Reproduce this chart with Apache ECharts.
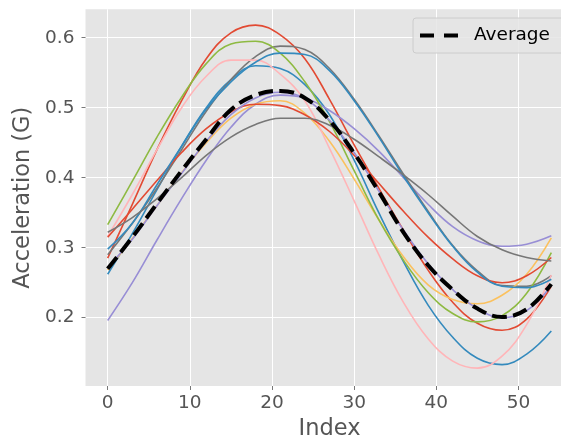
<!DOCTYPE html>
<html><head><meta charset="utf-8">
<script src="https://cdn.jsdelivr.net/npm/echarts@6/dist/echarts.min.js"></script>
<style>html,body{margin:0;padding:0;background:#fff}#c{width:561px;height:441px}</style>
</head><body><div id="c"></div>
<script>
const xIndex = [0,3,6,9,12,15,18,21,24,27,30,33,36,39,42,45,48,51,54];
const redA    = [0.285,0.362,0.440,0.510,0.570,0.607,0.618,0.604,0.570,0.512,0.447,0.385,0.325,0.268,0.222,0.192,0.182,0.198,0.245];
const blueB   = [0.262,0.320,0.383,0.445,0.500,0.540,0.560,0.556,0.533,0.490,0.425,0.350,0.280,0.218,0.172,0.142,0.133,0.148,0.181];
const purpleA = [0.196,0.250,0.311,0.370,0.425,0.472,0.505,0.518,0.514,0.496,0.470,0.438,0.400,0.362,0.330,0.310,0.302,0.305,0.317];
const grayA   = [0.290,0.335,0.385,0.440,0.495,0.540,0.573,0.588,0.583,0.556,0.512,0.460,0.405,0.352,0.303,0.267,0.246,0.245,0.260];
const yellow  = [0.268,0.313,0.360,0.407,0.450,0.485,0.505,0.510,0.492,0.452,0.398,0.340,0.287,0.247,0.226,0.220,0.232,0.262,0.314];
const green   = [0.333,0.395,0.458,0.515,0.563,0.591,0.595,0.578,0.537,0.480,0.410,0.340,0.282,0.236,0.206,0.194,0.203,0.235,0.293];
const pink    = [0.316,0.376,0.440,0.500,0.545,0.568,0.568,0.548,0.510,0.442,0.367,0.290,0.222,0.170,0.138,0.128,0.145,0.190,0.261];
const redB    = [0.315,0.355,0.396,0.436,0.470,0.494,0.505,0.503,0.490,0.466,0.432,0.392,0.352,0.315,0.284,0.260,0.250,0.260,0.286];
const blueA   = [0.298,0.335,0.390,0.445,0.498,0.537,0.565,0.578,0.576,0.553,0.510,0.458,0.402,0.350,0.302,0.265,0.245,0.243,0.255];
const purpleB = [0.272,0.312,0.360,0.406,0.452,0.490,0.514,0.522,0.513,0.482,0.436,0.381,0.325,0.277,0.240,0.213,0.200,0.210,0.246];
const grayB   = [0.322,0.343,0.370,0.400,0.432,0.458,0.476,0.485,0.485,0.475,0.455,0.430,0.404,0.376,0.345,0.316,0.297,0.286,0.281];
const average = [0.270,0.315,0.363,0.410,0.455,0.497,0.518,0.524,0.514,0.482,0.435,0.380,0.322,0.275,0.240,0.213,0.201,0.212,0.248];
const xTicks = [0,10,20,30,40,50];
const yTicks = [0.2,0.3,0.4,0.5,0.6];
const xName = 'Index';
const yName = 'Acceleration (G)';
const avgName = 'Average';

const traces = [
  [redA,'#E24A33'],[blueB,'#348ABD'],[purpleA,'#988ED5'],[grayA,'#777777'],
  [yellow,'#FBC15E'],[green,'#8EBA42'],[pink,'#FFB5B8'],
  [redB,'#E24A33'],[blueA,'#348ABD'],[purpleB,'#988ED5'],[grayB,'#777777']
];
const pairs = arr => xIndex.map((x,i)=>[x,arr[i]]);
const FONT = 'DejaVu Sans';
const series = traces.map(([arr,col],k)=>({
  type:'line', name:'s'+k, data:pairs(arr), smooth:0.4, showSymbol:false, symbol:'none',
  lineStyle:{color:col,width:1.6}, itemStyle:{color:col}, z:2, silent:true
}));
series.push({
  type:'line', name:avgName, data:pairs(average), smooth:0.4, showSymbol:false, symbol:'none',
  lineStyle:{color:'#000',width:4,type:[14.8,6.4]}, itemStyle:{color:'#000'}, z:5, silent:true
});

const chart = echarts.init(document.getElementById('c'), null, {renderer:'canvas'});
chart.setOption({
  animation:false,
  backgroundColor:'#ffffff',
  grid:{left:85.5, top:9.3, width:488, height:376.7, backgroundColor:'#E5E5E5', show:true, borderWidth:0,
        containLabel:false, outerBoundsMode:'none'},
  legend:{
    data:[{name:avgName, icon:'path://M0,0H14V4H0Z M24,0H38V4H24Z'}],
    left:413, top:18, orient:'horizontal',
    padding:[8,20,8,7], itemWidth:38, itemHeight:4,
    itemStyle:{color:'#000', borderWidth:0},
    backgroundColor:'rgba(229,229,229,0.85)', borderColor:'#CCCCCC', borderWidth:1, borderRadius:3,
    textStyle:{fontFamily:FONT, fontSize:18.5, color:'#000', padding:[0,0,0,11]}
  },
  xAxis:{
    type:'value', min:-2.7, max:56.7,
    name:xName, nameLocation:'middle', nameGap:32,
    nameTextStyle:{fontFamily:FONT, fontSize:22.5, color:'#555555'},
    axisLine:{show:false, onZero:false},
    axisTick:{show:true, length:4, customValues:xTicks, lineStyle:{color:'#555555', width:0.8}},
    axisLabel:{customValues:xTicks, margin:8, fontFamily:FONT, fontSize:18.5, color:'#555555'},
    splitLine:{show:true, lineStyle:{color:'#ffffff', width:1}}
  },
  yAxis:{
    type:'value', min:0.1024, max:0.6406,
    name:yName, nameLocation:'middle', nameGap:44,
    nameTextStyle:{fontFamily:FONT, fontSize:22.5, color:'#555555'},
    axisLine:{show:false, onZero:false},
    axisTick:{show:true, length:4, customValues:yTicks, lineStyle:{color:'#555555', width:0.8}},
    axisLabel:{customValues:yTicks, margin:11, fontFamily:FONT, fontSize:18.5, color:'#555555',
      formatter:v=>v.toFixed(1)},
    splitLine:{show:true, lineStyle:{color:'#ffffff', width:1}}
  },
  series:series
});
</script></body></html>
